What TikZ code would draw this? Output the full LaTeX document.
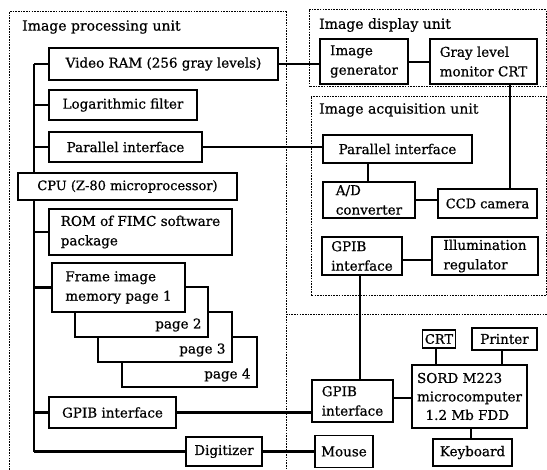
\documentclass[tikz,border=0pt]{standalone}
\usepackage{fontspec}
\setmainfont{DejaVu Serif}[FakeBold=0.6]
\begin{document}
\begin{tikzpicture}[x=1pt,y=-1pt,
  font=\fontsize{13.5}{19.5}\selectfont,
  box/.style={draw, line width=1.4pt, fill=white, inner sep=0pt, align=left},
  cpubox/.style={box, line width=2.3pt},
  pagebox/.style={box},
  pagelabel/.style={anchor=south east, inner xsep=7pt, inner ysep=6pt},
  unit/.style={line width=1pt, dash pattern=on 1.6pt off 1.1pt},
  wire/.style={line width=2.6pt},
  small/.style={font=\fontsize{13}{19.5}\selectfont},
  title/.style={anchor=west, inner sep=0pt, font=\fontsize{14}{16}\selectfont}]
\useasboundingbox (0,0) rectangle (547,470);

% unit frames
\draw[unit] (9,470) -- (9,12) -- (286,12) -- (286,470);
\draw[unit] (309,10) rectangle (546,87);
\draw[unit] (311,97) rectangle (546,296);
\draw[unit] (286,315) -- (547,315);
\node[title] (tipu) at (22,27) {Image processing unit};
\node[title] (tidu) at (319,25) {Image display unit};
\node[title] (tiau) at (319,110) {Image acquisition unit};

% bus of the processing unit
\coordinate (bustop) at (34,64);
\coordinate (busbot) at (34,452);
\draw[wire] (bustop) -- (busbot);

% processing unit
\node[box, minimum width=229, minimum height=32] (vram) at (163.5,64) {Video RAM (256 gray levels)};
\node[box, minimum width=148, minimum height=30] (logf) at (123,105) {Logarithmic filter};
\node[box, minimum width=153, minimum height=30] (parl) at (125.5,147) {Parallel interface};
\node[cpubox, small, minimum width=219, minimum height=27] (cpu) at (127.5,186.5) {CPU (Z-80 microprocessor)};
\node[box, minimum width=183, minimum height=46] (rom) at (140.5,232) {ROM of FIMC software\\package};
\node[pagebox, minimum width=135, minimum height=50] (pg4) at (189.5,362) {};
\node[pagebox, minimum width=134, minimum height=50] (pg3) at (165,337) {};
\node[pagebox, minimum width=133, minimum height=50] (pg2) at (141.5,312) {};
\node[pagelabel] (pg4t) at (pg4.south east) {page 4};
\node[pagelabel] (pg3t) at (pg3.south east) {page 3};
\node[pagelabel] (pg2t) at (pg2.south east) {page 2};
\node[box, minimum width=133, minimum height=49] (pg1) at (118.5,287.5) {Frame image\\memory page 1};
\node[box, minimum width=127, minimum height=31] (gpibl) at (112.5,412.5) {GPIB interface};
\node[box, minimum width=76, minimum height=29] (digi) at (224,451.5) {Digitizer};

\foreach \n in {vram,logf,parl,rom,pg1,gpibl,digi}
  \draw[wire] (bustop |- \n.west) -- (\n.west);

% display unit
\node[box, minimum width=88, minimum height=45] (igen) at (364,61.5) {Image\\generator};
\node[box, minimum width=107, minimum height=45] (gcrt) at (483.5,61.5) {Gray level\\monitor CRT};

% acquisition unit
\node[box, minimum width=149, minimum height=28] (parr) at (397.5,149) {Parallel interface};
\node[box, minimum width=92, minimum height=36] (adc) at (369,200) {A/D\\converter};
\node[box, small, minimum width=99, minimum height=29] (ccd) at (487.5,203.5) {CCD camera};
\node[box, minimum width=80, minimum height=38] (gpiba) at (362,256) {GPIB\\interface};
\node[box, minimum width=106, minimum height=38] (illum) at (485,256) {Illumination\\regulator};

% host computer
\node[box, minimum width=81, minimum height=42] (gpibh) at (352.5,401) {GPIB\\interface};
\node[box, minimum width=115, minimum height=63, font=\fontsize{13.5}{18.5}\selectfont] (sord) at (469.5,396.5) {SORD M223\\microcomputer\\\ \ 1.2 Mb FDD};
\node[box, small, minimum width=33, minimum height=18] (crt) at (439,339) {CRT};
\node[box, minimum width=65, minimum height=22] (prn) at (504.5,339) {Printer};
\node[box, minimum width=79, minimum height=27] (kbd) at (472.5,452.5) {Keyboard};
\node[box, minimum width=58, minimum height=32] (mouse) at (344,451.5) {Mouse};

% connections
\draw[wire] (vram.east) -- (igen.west |- vram.east);
\draw[wire] (igen.east |- 0,62) -- (gcrt.west |- 0,62);
\draw[wire] (parl.east) -- (parr.west |- parl.east);
\draw[wire] (parr.south -| 368,0) -- (adc.north -| 368,0);
\draw[wire] (adc.east) -- (ccd.west |- adc.east);
\draw[wire] (gcrt.south -| 510,0) -- (ccd.north -| 510,0);
\draw[wire] (gpiba.east |- 0,260) -- (illum.west |- 0,260);
\draw[wire] (gpiba.south -| 360,0) -- (gpibh.north -| 360,0);
\draw[wire] (gpibl.east) -- (gpibh.west |- gpibl.east);
\draw[wire] (gpibh.east |- 0,398) -- (sord.west |- 0,398);
\draw[wire] (crt.south -| 436,0) -- (sord.north -| 436,0);
\draw[wire] (prn.south -| 502,0) -- (sord.north -| 502,0);
\draw[wire] (sord.south -| 471,0) -- (kbd.north -| 471,0);
\draw[wire] (digi.east) -- (mouse.west |- digi.east);
\end{tikzpicture}
\end{document}
